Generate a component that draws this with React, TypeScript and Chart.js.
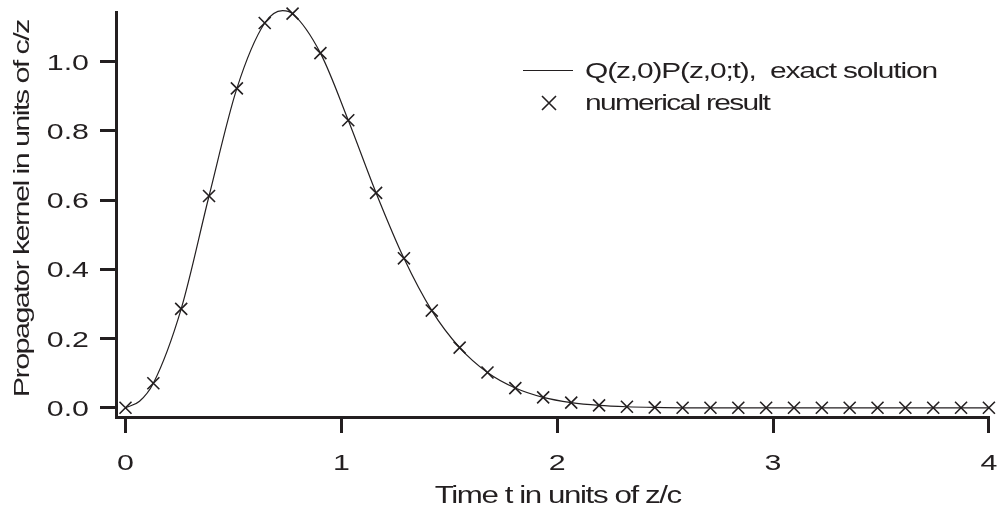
import React, { useEffect, useRef } from 'react';
import { Chart, registerables } from 'chart.js';

Chart.register(...registerables);

// ---- data ----
const crossT = [
  0, 0.129, 0.258, 0.387, 0.516, 0.645, 0.774, 0.903, 1.032, 1.161, 1.29, 1.419,
  1.548, 1.677, 1.806, 1.935, 2.065, 2.194, 2.323, 2.452, 2.581, 2.71, 2.839, 2.968,
  3.097, 3.226, 3.355, 3.484, 3.613, 3.742, 3.871, 4.0,
];
const crossV = [
  0.0, 0.071, 0.286, 0.612, 0.923, 1.112, 1.139, 1.025, 0.831, 0.621, 0.432, 0.281,
  0.174, 0.102, 0.057, 0.03, 0.015, 0.007, 0.003, 0.001, 0.0, 0.0, 0.0, 0.0,
  0.0, 0.0, 0.0, 0.0, 0.0, 0.0, 0.0, 0.0,
];
const lineT = [
  0, 0.065, 0.129, 0.258, 0.387, 0.516, 0.645, 0.728, 0.774, 0.903, 1.032, 1.161,
  1.29, 1.419, 1.548, 1.677, 1.806, 1.935, 2.065, 2.194, 2.323, 2.452, 2.581, 3.0,
  3.5, 4.0,
];
const lineV = [
  0, 0.019, 0.071, 0.286, 0.612, 0.923, 1.112, 1.148, 1.139, 1.025, 0.831, 0.621,
  0.432, 0.281, 0.174, 0.102, 0.057, 0.03, 0.015, 0.007, 0.003, 0.001, 0.0, 0.0,
  0.0, 0.0,
];
const xTicks = [0, 1, 2, 3, 4];
const xTickLabels = ['0', '1', '2', '3', '4'];
const yTicks = [0, 0.2, 0.4, 0.6, 0.8, 1.0];
const yTickLabels = ['0.0', '0.2', '0.4', '0.6', '0.8', '1.0'];
const xTitle = 'Time t in units of z/c';
const yTitle = 'Propagator kernel in units of c/z';
const lineLabel = 'Q(z,0)P(z,0;t),  exact solution';
const crossLabel = 'numerical result';

const INK = '#231f20';
const FONT = '"Liberation Sans", Arial, Helvetica, sans-serif';

type TextOpts = {
  size: number;
  sx: number;
  sy?: number;
  align: CanvasTextAlign;
  target?: number;
  rotate?: number;
};

function drawText(ctx: CanvasRenderingContext2D, text: string, x: number, y: number, o: TextOpts) {
  ctx.save();
  ctx.font = `${o.size}px ${FONT}`;
  ctx.fillStyle = INK;
  ctx.textBaseline = 'alphabetic';
  ctx.textAlign = o.align;
  let ls = 0;
  const anyCtx = ctx as any;
  if (o.target) {
    anyCtx.letterSpacing = '0px';
    const w = ctx.measureText(text).width;
    ls = (o.target / o.sx - w) / text.length;
    anyCtx.letterSpacing = `${ls}px`;
  }
  ctx.translate(x, y);
  if (o.rotate) ctx.rotate(o.rotate);
  ctx.scale(o.sx, o.sy ?? 1);
  const dx = o.align === 'center' ? -ls / 2 : o.align === 'right' ? -ls : 0;
  ctx.fillText(text, dx, 0);
  ctx.restore();
}

function drawCross(ctx: CanvasRenderingContext2D, x: number, y: number, h: number, w: number) {
  ctx.save();
  ctx.strokeStyle = INK;
  ctx.lineWidth = w;
  ctx.beginPath();
  ctx.moveTo(x - h, y - h);
  ctx.lineTo(x + h, y + h);
  ctx.moveTo(x - h, y + h);
  ctx.lineTo(x + h, y - h);
  ctx.stroke();
  ctx.restore();
}

const textPlugin = {
  id: 'textPlugin',
  afterDraw(chart: any) {
    const ctx: CanvasRenderingContext2D = chart.ctx;
    const xs = chart.scales.x;
    const ys = chart.scales.y;
    const area = chart.chartArea;

    // y tick labels
    yTicks.forEach((v, i) => {
      const py = ys.getPixelForValue(v);
      drawText(ctx, yTickLabels[i], area.left - 27, py + 8, { size: 22, sx: 1.38, align: 'right' });
    });
    // x tick labels
    xTicks.forEach((v, i) => {
      const px = xs.getPixelForValue(v);
      drawText(ctx, xTickLabels[i], px, 469.5, { size: 22, sx: 1.38, align: 'center' });
    });
    // axis titles
    drawText(ctx, xTitle, 557, 503, { size: 23, sx: 1.36, align: 'center', target: 246 });
    drawText(ctx, yTitle, 28.5, 209.5, {
      size: 22.5, sx: 1.36, sy: 1.0, align: 'center', target: 377, rotate: -Math.PI / 2,
    });

    // legend
    const ds = chart.data.datasets;
    ctx.save();
    ctx.strokeStyle = INK;
    ctx.lineWidth = 1.2;
    ctx.beginPath();
    ctx.moveTo(523, 70.5);
    ctx.lineTo(573, 70.5);
    ctx.stroke();
    ctx.restore();
    drawText(ctx, ds[0].label, 585, 78, { size: 22, sx: 1.36, align: 'left', target: 352 });
    drawCross(ctx, 549, 103, 7, 1.6);
    drawText(ctx, ds[1].label, 585, 110, { size: 22, sx: 1.36, align: 'left', target: 184 });
  },
};

export default function App() {
  const ref = useRef<HTMLCanvasElement | null>(null);

  useEffect(() => {
    if (!ref.current) return;
    const chart = new Chart(ref.current, {
      type: 'line',
      data: {
        datasets: [
          {
            label: lineLabel,
            data: lineT.map((t, i) => ({ x: t, y: lineV[i] })),
            borderColor: INK,
            borderWidth: 1.2,
            pointRadius: 0,
            cubicInterpolationMode: 'monotone',
            fill: false,
            clip: false as any,
          },
          {
            label: crossLabel,
            data: crossT.map((t, i) => ({ x: t, y: crossV[i] })),
            showLine: false,
            pointStyle: 'crossRot',
            pointRadius: 8.5,
            pointBorderWidth: 1.6,
            pointBorderColor: INK,
            pointBackgroundColor: INK,
            borderColor: INK,
            clip: false as any,
          },
        ],
      },
      options: {
        animation: false,
        responsive: false,
        events: [],
        layout: { padding: { left: 0, top: 12, right: 10, bottom: 0 } },
        plugins: {
          legend: { display: false },
          tooltip: { enabled: false },
          title: { display: false },
        },
        scales: {
          x: {
            type: 'linear',
            min: -0.044,
            max: 4,
            afterBuildTicks: (s: any) => {
              s.ticks = xTicks.map((v) => ({ value: v }));
            },
            afterFit: (s: any) => {
              s.height = 91;
            },
            ticks: { display: false },
            grid: {
              drawOnChartArea: false,
              drawTicks: true,
              tickLength: 16,
              lineWidth: 3,
              color: INK,
            },
            border: { display: true, width: 3, color: INK },
          },
          y: {
            type: 'linear',
            min: -0.0266,
            max: 1.1438,
            afterBuildTicks: (s: any) => {
              s.ticks = yTicks.map((v) => ({ value: v }));
            },
            afterFit: (s: any) => {
              s.width = 116;
            },
            ticks: { display: false },
            grid: {
              drawOnChartArea: false,
              drawTicks: true,
              tickLength: 16,
              lineWidth: 3,
              color: INK,
            },
            border: { display: true, width: 3, color: INK },
          },
        },
      },
      plugins: [textPlugin],
    } as any);
    return () => chart.destroy();
  }, []);

  return (
    <div style={{ position: 'absolute', left: 0, top: 0, width: 999, height: 508, background: '#fff' }}>
      <canvas ref={ref} width={999} height={508} style={{ display: 'block', width: 999, height: 508 }} />
    </div>
  );
}
